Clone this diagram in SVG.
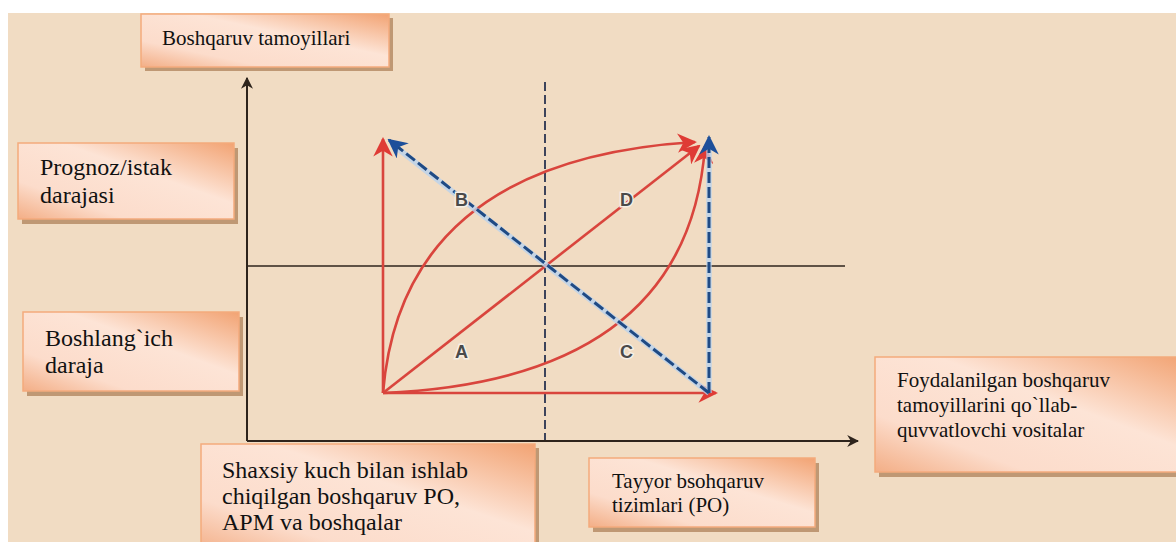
<svg xmlns="http://www.w3.org/2000/svg" width="1176" height="542" viewBox="0 0 1176 542">
<defs>
<linearGradient id="boxg" x1="1" y1="0" x2="0" y2="1">
<stop offset="0" stop-color="#f2a373"/>
<stop offset="0.4" stop-color="#fde4d6"/>
<stop offset="0.75" stop-color="#fcdccb"/>
<stop offset="1" stop-color="#f3ae86"/>
</linearGradient>
<marker id="ar-dark" viewBox="0 0 10 10" refX="9" refY="5" markerWidth="6" markerHeight="6" orient="auto" markerUnits="strokeWidth">
<path d="M0,0 L10,5 L0,10 L3,5 Z" fill="#2e241c"/>
</marker>
<marker id="ar-red" viewBox="0 0 10 10" refX="9" refY="5" markerWidth="7.5" markerHeight="7.5" orient="auto" markerUnits="strokeWidth">
<path d="M0,0 L10,5 L0,10 L3,5 Z" fill="#df3b35"/>
</marker>
<marker id="ar-blue" viewBox="0 0 10 10" refX="9" refY="5" markerWidth="6.5" markerHeight="6.5" orient="auto" markerUnits="strokeWidth">
<path d="M0,0 L10,5 L0,10 L3,5 Z" fill="#1d4f9a"/>
</marker>
<style>
.box{fill:url(#boxg);stroke:#f4aa7c;stroke-width:1.5}
.shadow{fill:#b68c66;opacity:0.85}
.t{font-family:"Liberation Serif","Times New Roman",serif;fill:#111}
.t21{font-size:21px}
.t24{font-size:24px}
.axis{stroke:#2e241c;stroke-width:2;fill:none}
.thin{stroke:#2e241c;stroke-width:1.3;fill:none}
.red{stroke:#d9453d;stroke-width:2.6;fill:none}
.halo{stroke:#b9d2ee;stroke-width:5.5;fill:none;opacity:0.8}
.blue{stroke:#1f4a84;stroke-width:3;fill:none;stroke-dasharray:11 4}
.vdash{stroke:#2a3350;stroke-width:1.8;fill:none;stroke-dasharray:9 4}
.lab{font-family:"Liberation Sans",Arial,sans-serif;font-size:18px;font-weight:bold;fill:#4a4a4a;stroke:#f6efe6;stroke-width:3;paint-order:stroke}
</style>
</defs>
<rect x="0" y="0" width="1176" height="542" fill="#ffffff"/>
<rect x="8" y="13" width="1168" height="529" fill="#f1dcc3"/>

<g id="connectors">
<line class="thin" x1="247" y1="266" x2="845" y2="266"/>
<line class="vdash" x1="545" y1="82" x2="545" y2="441"/>
<line class="axis" x1="247" y1="441" x2="247" y2="78" marker-end="url(#ar-dark)"/>
<line class="axis" x1="247" y1="441" x2="858" y2="441" marker-end="url(#ar-dark)"/>
<line class="red" x1="383" y1="393" x2="383" y2="139" marker-end="url(#ar-red)"/>
<line class="red" x1="383" y1="393" x2="716" y2="393" marker-end="url(#ar-red)"/>
<line class="red" x1="383" y1="393" x2="699" y2="146" marker-end="url(#ar-red)"/>
<path class="red" d="M383,393 Q402,160 695,142" marker-end="url(#ar-red)"/>
<path class="red" d="M383,393 Q688,380 705,146" marker-end="url(#ar-red)"/>
<line class="halo" x1="709" y1="393" x2="392" y2="144"/>
<line class="halo" x1="709" y1="393" x2="709" y2="146"/>
<line class="blue" x1="709" y1="393" x2="389" y2="140" marker-end="url(#ar-blue)"/>
<line class="blue" x1="709" y1="393" x2="709" y2="137" marker-end="url(#ar-blue)"/>
<text class="lab" x="455" y="206">B</text>
<text class="lab" x="620" y="206">D</text>
<text class="lab" x="455" y="358">A</text>
<text class="lab" x="620" y="358">C</text>
</g>

<g id="node-boshqaruv-tamoyillari">
<rect class="shadow" x="145" y="18" width="248" height="53"/>
<rect class="box" x="141" y="14" width="248" height="53"/>
<text class="t t21" x="162" y="45">Boshqaruv tamoyillari</text>
</g>

<g id="node-prognoz">
<rect class="shadow" x="22" y="148" width="216" height="76"/>
<rect class="box" x="18" y="143" width="216" height="76"/>
<text class="t t24" x="40" y="175">Prognoz/istak</text>
<text class="t t24" x="40" y="203">darajasi</text>
</g>

<g id="node-boshlangich">
<rect class="shadow" x="27" y="317" width="216" height="79"/>
<rect class="box" x="23" y="312" width="216" height="79"/>
<text class="t t24" x="45" y="346">Boshlang`ich</text>
<text class="t t24" x="45" y="373">daraja</text>
</g>

<g id="node-shaxsiy">
<rect class="shadow" x="205" y="448" width="334" height="110"/>
<rect class="box" x="201" y="444" width="334" height="110"/>
<text class="t t24" x="222" y="478">Shaxsiy kuch bilan ishlab</text>
<text class="t t24" x="222" y="504">chiqilgan boshqaruv PO,</text>
<text class="t t24" x="222" y="530">APM va boshqalar</text>
</g>

<g id="node-tayyor">
<rect class="shadow" x="593" y="463" width="226" height="69"/>
<rect class="box" x="589" y="458" width="226" height="69"/>
<text class="t t21" x="612" y="488">Tayyor bsohqaruv</text>
<text class="t t21" x="612" y="512">tizimlari (PO)</text>
</g>

<g id="node-foydalanilgan">
<rect class="shadow" x="879" y="362" width="310" height="115"/>
<rect class="box" x="875" y="357" width="310" height="115"/>
<text class="t t21" x="897" y="387">Foydalanilgan boshqaruv</text>
<text class="t t21" x="897" y="412">tamoyillarini qo`llab-</text>
<text class="t t21" x="897" y="437">quvvatlovchi vositalar</text>
</g>
</svg>
